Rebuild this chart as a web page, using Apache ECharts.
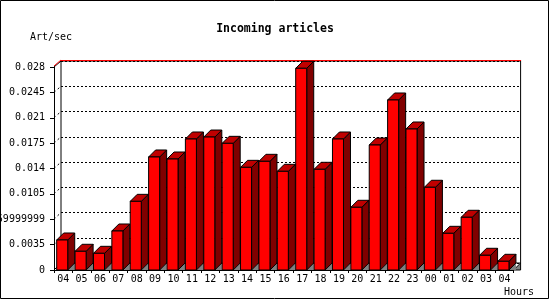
<!DOCTYPE html>
<html><head><meta charset="utf-8">
<script src="https://cdn.jsdelivr.net/npm/echarts@6/dist/echarts.min.js"></script>
<style>html,body{margin:0;padding:0;background:#fff}#c{width:550px;height:300px}</style>
</head><body><div id="c"></div>
<script>
const hours = ['04','05','06','07','08','09','10','11','12','13','14','15','16','17','18','19','20','21','22','23','00','01','02','03','04'];
const artPerSec = [0.00414,0.00258,0.0023,0.00538,0.00947,0.01559,0.01531,0.01807,0.01834,0.01747,0.01416,0.01499,0.01361,0.02782,0.01389,0.01807,0.00865,0.01724,0.02345,0.01945,0.01141,0.00506,0.00727,0.00203,0.0012];
const yTickLabels = ['0','0.0035','0.0069999999','0.0105','0.014','0.0175','0.021','0.0245','0.028'];
const yMax = 0.028, yStep = 0.0035;

const FONT = 'DejaVu Sans Mono';
const DEPTH = 7;
const chart = echarts.init(document.getElementById('c'), null, {renderer:'canvas'});

function renderBar(params, api){
  const idx = api.value(0), v = api.value(1);
  const top = api.coord([idx, v]);
  const base = api.coord([idx, 0]);
  const bw = api.size([1,0])[0];
  const x0 = top[0] - bw*0.353, x1 = x0 + bw*0.6;
  const t = top[1], b = base[1], d = DEPTH;
  const st = {stroke:'#000', lineWidth:1};
  return {type:'group', children:[
    {type:'polygon', shape:{points:[[x1,b],[x1+d,b-d],[x1+d,b]]}, style:{fill:'#808080'}},
    {type:'polygon', shape:{points:[[x1,t],[x1+d,t-d],[x1+d,b-d],[x1,b]]}, style:Object.assign({fill:'#800000'},st)},
    {type:'polygon', shape:{points:[[x0,t],[x0+d,t-d],[x1+d,t-d],[x1,t]]}, style:Object.assign({fill:'#c00000'},st)},
    {type:'rect', shape:{x:x0,y:t,width:x1-x0,height:b-t}, style:Object.assign({fill:'#ff0000'},st)}
  ]};
}

const yLabelFmt = (v) => { const i = Math.round(v / yStep); return yTickLabels[i] !== undefined ? yTickLabels[i] : ''; };

chart.setOption({
  animation:false,
  backgroundColor:'#fff',
  title:{text:'Incoming articles', left:'center', top:18,
    textStyle:{fontFamily:FONT, fontWeight:'bold', fontSize:11.5, color:'#000'}},
  grid:[
    {left:54, right:36.4, top:67, bottom:30, containLabel:false, outerBoundsMode:'none'},
    {left:61, right:29.4, top:61, bottom:37, containLabel:false, outerBoundsMode:'none', show:true, borderColor:'#000', borderWidth:1, backgroundColor:'transparent', z:0}
  ],
  xAxis:[
    {type:'category', gridIndex:0, data:hours, boundaryGap:true,
      axisLine:{lineStyle:{color:'#000', width:1}},
      axisTick:{show:true, length:3, alignWithLabel:false, lineStyle:{color:'#000'}},
      axisLabel:{fontFamily:FONT, fontSize:10, color:'#000', margin:4, interval:0},
      splitLine:{show:false}},
    {type:'category', gridIndex:1, data:hours, show:false}
  ],
  yAxis:[
    {type:'value', gridIndex:0, min:0, max:yMax, interval:yStep,
      axisLine:{show:true, lineStyle:{color:'#000', width:1}},
      axisTick:{show:true, length:4, lineStyle:{color:'#000'}},
      axisLabel:{fontFamily:FONT, fontSize:10, color:'#000', margin:9, formatter:yLabelFmt},
      splitLine:{show:false}},
    {type:'value', gridIndex:1, min:0, max:yMax, interval:yStep,
      axisLine:{show:false}, axisTick:{show:false}, axisLabel:{show:false},
      splitLine:{show:true, lineStyle:{color:'#000', type:[2,2], width:1}}}
  ],
  series:[{
    type:'custom', xAxisIndex:0, yAxisIndex:0, renderItem:renderBar, z:5,
    data: artPerSec.map((v,i)=>[i,v])
  }]
});

const g = [];
const frontTop = chart.convertToPixel({yAxisIndex:0}, yMax);
const frontBottom = chart.convertToPixel({yAxisIndex:0}, 0);
const backTop = chart.convertToPixel({yAxisIndex:1}, yMax);
const backBottom = chart.convertToPixel({yAxisIndex:1}, 0);
const step = chart.convertToPixel({xAxisIndex:0}, 1) - chart.convertToPixel({xAxisIndex:0}, 0);
const fl = chart.convertToPixel({xAxisIndex:0}, 0) - step/2;
const fr = chart.convertToPixel({xAxisIndex:0}, hours.length-1) + step/2;
const bl = fl + DEPTH, br = fr + DEPTH;
for (let i=1;i<yTickLabels.length-1;i++){
  const yf = chart.convertToPixel({yAxisIndex:0}, i*yStep);
  const yb = chart.convertToPixel({yAxisIndex:1}, i*yStep);
  g.push({type:'line', z:1, shape:{x1:fl,y1:yf,x2:bl,y2:yb}, style:{stroke:'#000', lineWidth:1, lineDash:[2,3]}});
}
g.push({type:'line', z:1, shape:{x1:fl,y1:frontTop,x2:bl,y2:backTop}, style:{stroke:'#000', lineWidth:1}});
g.push({type:'line', z:1, shape:{x1:fl,y1:frontTop-1,x2:bl,y2:backTop-1}, style:{stroke:'#ff0000', lineWidth:1}});
g.push({type:'line', z:1, shape:{x1:bl,y1:backTop-0.5,x2:br+0.5,y2:backTop-0.5}, style:{stroke:'#ff0000', lineWidth:1}});
g.push({type:'line', z:1, shape:{x1:fl,y1:frontBottom,x2:bl,y2:backBottom}, style:{stroke:'#000', lineWidth:1}});
g.push({type:'polygon', z:1, shape:{points:[[fr,frontBottom],[br,backBottom],[br,frontBottom]]}, style:{fill:'#808080', stroke:'#000', lineWidth:1}});
g.push({type:'text', z:10, style:{x:30, y:37, text:'Art/sec', font:'10px "'+FONT+'"', fill:'#000', textVerticalAlign:'middle'}});
g.push({type:'text', z:10, style:{x:504, y:292, text:'Hours', font:'10px "'+FONT+'"', fill:'#000', textVerticalAlign:'middle'}});
g.push({type:'rect', z:10, shape:{x:0.5,y:0.5,width:548,height:298}, style:{fill:'none', stroke:'#000', lineWidth:1}});
chart.setOption({graphic:g});
</script></body></html>
